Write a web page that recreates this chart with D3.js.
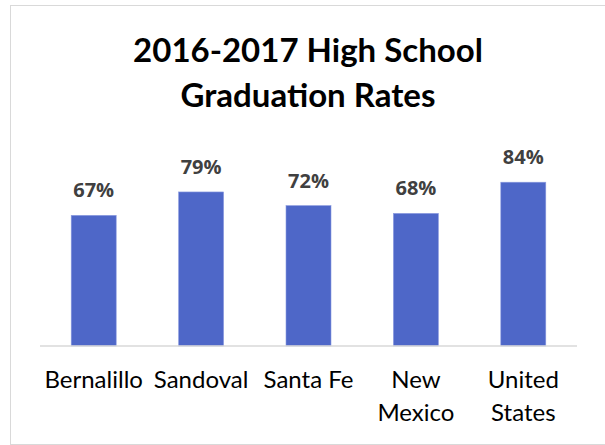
<!DOCTYPE html>
<html>
<head>
<meta charset="utf-8">
<script src="https://cdn.jsdelivr.net/npm/d3@7"></script>
<style>
  html, body { margin: 0; padding: 0; background: #ffffff; }
  svg { display: block; }
</style>
</head>
<body>
<svg id="chart" width="605" height="445"></svg>
<script>
// ---- data ----
const categories = ["Bernalillo", "Sandoval", "Santa Fe", "New Mexico", "United States"];
const rates = [0.67, 0.79, 0.72, 0.68, 0.84];
const titleLines = ["2016-2017 High School", "Graduation Rates"];

const W = 605, H = 445;
const svg = d3.select("#chart");

// outer chart border
svg.append("rect")
  .attr("x", 10.5).attr("y", 5.5)
  .attr("width", 600).attr("height", 439)
  .attr("fill", "#ffffff")
  .attr("stroke", "#d9d9d9")
  .attr("stroke-width", 1);

// title
const title = svg.append("text")
  .attr("text-anchor", "middle")
  .attr("font-family", "Lato, 'Open Sans', sans-serif")
  .attr("font-weight", 700)
  .attr("font-size", 33)
  .attr("fill", "#000000");
titleLines.forEach((t, i) => {
  title.append("tspan").attr("x", 308).attr("y", 62 + i * 45).text(t);
});

const plot = { left: 40, right: 577, top: 151, bottom: 346 };

const x = d3.scaleBand()
  .domain(categories)
  .range([plot.left, plot.right])
  .paddingInner(0.581)
  .paddingOuter(0.2905);

const y = d3.scaleLinear()
  .domain([0, 1])
  .range([plot.bottom, plot.top]);

const data = categories.map((c, i) => ({ cat: c, v: rates[i] }));

// bars
svg.append("g").selectAll("rect")
  .data(data)
  .join("rect")
  .attr("x", d => x(d.cat))
  .attr("y", d => y(d.v))
  .attr("width", x.bandwidth())
  .attr("height", d => y(0) - y(d.v))
  .attr("fill", "#4e67c8")
  .attr("stroke", "#8b9be0")
  .attr("stroke-width", 0.6);

// value labels
svg.append("g").selectAll("text")
  .data(data)
  .join("text")
  .attr("x", d => x(d.cat) + x.bandwidth() / 2)
  .attr("y", d => y(d.v) - 18)
  .attr("text-anchor", "middle")
  .attr("font-family", "'Open Sans', sans-serif")
  .attr("font-weight", 700)
  .attr("font-size", 20)
  .attr("fill", "#404040")
  .text(d => d3.format(".0%")(d.v));

// x axis
const xAxis = d3.axisBottom(x).tickSize(0).tickPadding(0);
const gx = svg.append("g")
  .attr("transform", `translate(0,${plot.bottom})`)
  .call(xAxis);
gx.select(".domain")
  .attr("stroke", "#d9d9d9")
  .attr("stroke-width", 1.5)
  .attr("d", `M${plot.left},0H${plot.right}`);
gx.selectAll(".tick text")
  .attr("font-family", "Lato, 'Open Sans', sans-serif")
  .attr("font-size", 24)
  .attr("fill", "#000000")
  .attr("dy", null)
  .attr("y", 42)
  .each(function() {
    const t = d3.select(this);
    const words = t.text().split(/\s+/);
    const maxW = x.step();
    t.text(null);
    let line = [];
    let lineNo = 0;
    let tspan = t.append("tspan").attr("x", 0).attr("y", 42);
    words.forEach(w => {
      line.push(w);
      tspan.text(line.join(" "));
      if (tspan.node().getComputedTextLength() > maxW && line.length > 1) {
        line.pop();
        tspan.text(line.join(" "));
        line = [w];
        lineNo++;
        tspan = t.append("tspan").attr("x", 0).attr("y", 42 + lineNo * 33).text(w);
      }
    });
  });
</script>
</body>
</html>
